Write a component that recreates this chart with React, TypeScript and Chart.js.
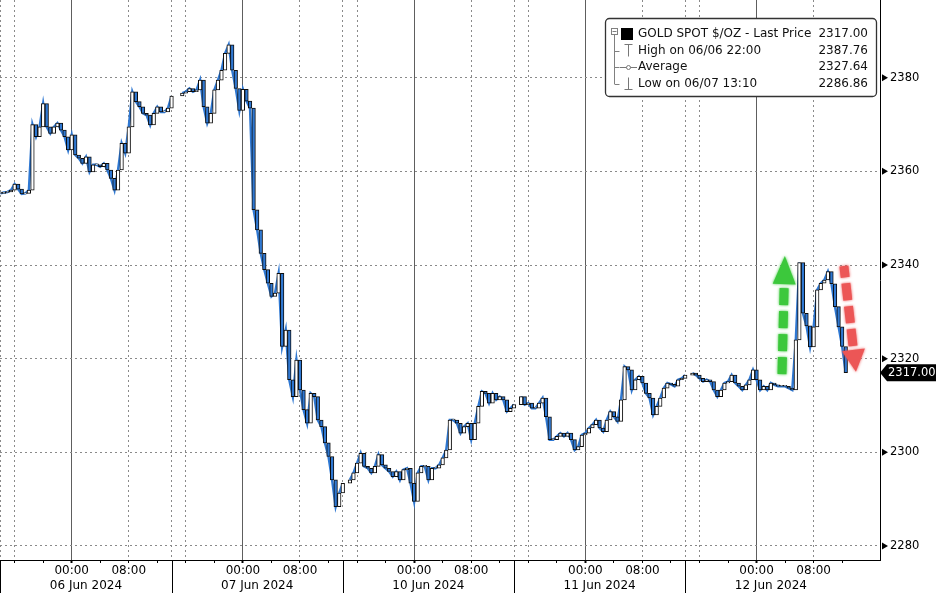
import React, { useEffect, useRef } from 'react';
import { Chart, registerables } from 'chart.js';

Chart.register(...registerables);

// ---------------- data ----------------
// Half-hour closes, x in trading hours from the left edge (each day block = 24 h)
const STEP_HOURS = 0.5;
const sessionStarts = [0, 25.5, 49, 73, 97];

const closes06 = [
  2355.3, 2355.5, 2355.6, 2356.0, 2357.3, 2356.2, 2355.2, 2355.3, 2356.0, 2370.0,
  2367.4, 2369.5, 2374.5, 2369.5, 2368.1, 2369.5, 2370.3, 2368.8, 2367.4, 2364.6,
  2367.8, 2363.5, 2362.8, 2361.7, 2363.1, 2359.9, 2361.4, 2361.4, 2361.0, 2361.7,
  2360.3, 2358.5, 2356.0, 2360.3, 2366.0, 2363.9, 2369.5, 2377.0, 2374.9, 2373.8,
  2372.4, 2372.0, 2369.9, 2372.4, 2373.8, 2372.7, 2372.7, 2373.5, 2376.1,
];
const closes07 = [
  2376.7, 2377.0, 2377.7, 2377.0, 2377.4, 2379.5, 2373.8, 2370.3, 2372.4, 2377.4,
  2379.5, 2381.6, 2385.2, 2387.0, 2381.6, 2377.7, 2373.0, 2377.5, 2375.0, 2373.5,
  2351.8, 2347.5, 2342.5, 2339.0, 2336.1, 2333.3, 2334.0, 2338.2, 2322.6, 2326.1,
  2315.5, 2311.9, 2319.7, 2313.3, 2309.1, 2306.2, 2312.6, 2311.9, 2306.9, 2305.5,
  2302.0, 2299.1, 2294.1, 2288.4, 2291.3, 2293.4,
];
const closes10 = [
  2294.1, 2295.6, 2297.7, 2299.8, 2297.0, 2296.6, 2295.6, 2297.0, 2299.5, 2297.3,
  2296.6, 2295.9, 2294.8, 2295.9, 2294.1, 2296.3, 2296.6, 2293.4, 2289.5, 2295.6,
  2297.0, 2297.0, 2294.1, 2296.6, 2296.6, 2297.3, 2298.8, 2300.5, 2306.9, 2306.9,
  2306.2, 2304.1, 2305.5, 2306.2, 2302.7, 2306.2, 2309.8, 2313.0, 2312.6, 2310.5,
  2312.6, 2311.2, 2311.9, 2311.2, 2308.7, 2309.4, 2310.2,
];
const closes11 = [
  2311.9, 2310.2, 2310.5, 2309.4, 2309.4, 2310.5, 2311.6, 2307.6, 2302.7, 2302.7,
  2303.4, 2304.1, 2303.4, 2304.1, 2302.7, 2300.5, 2301.2, 2303.7, 2304.1, 2305.2,
  2305.9, 2306.9, 2305.2, 2304.4, 2306.9, 2308.7, 2307.6, 2306.6, 2311.2, 2318.3,
  2317.6, 2313.3, 2315.5, 2316.2, 2314.8, 2312.6, 2311.6, 2308.0, 2309.8, 2311.6,
  2313.7, 2314.8, 2314.5, 2314.1, 2315.5, 2315.8, 2316.5,
];
const closes12 = [
  2316.9, 2316.5, 2315.8, 2315.1, 2315.5, 2315.1, 2313.3, 2311.9, 2313.3, 2314.8,
  2315.1, 2316.5, 2314.8, 2314.1, 2313.3, 2314.4, 2315.5, 2317.6, 2315.5, 2313.3,
  2314.1, 2313.3, 2314.8, 2314.4, 2314.1, 2314.1, 2314.1, 2313.7, 2313.3, 2324.0,
  2340.5, 2329.7, 2327.0, 2322.5, 2326.8, 2334.7, 2336.1, 2336.8, 2338.6, 2336.0,
  2331.1, 2326.8, 2322.6, 2317.0,
];
const sessions = [closes06, closes07, closes10, closes11, closes12];

const dayLabels = ['06 Jun 2024', '07 Jun 2024', '10 Jun 2024', '11 Jun 2024', '12 Jun 2024'];
const hourLabels = ['00:00', '08:00'];
const yTicks = [2280, 2300, 2320, 2340, 2360, 2380];
const Y_MIN = 2277.0;
const Y_MAX = 2396.6;
const X_MIN = -0.05;
const X_MAX = 123.3;

const lastPrice = 2317.0;
const lastPriceText = '2317.00';
const legendLabels = ['GOLD SPOT $/OZ - Last Price', 'High on 06/06 22:00', 'Average', 'Low on 06/07 13:10'];
const legendValues = ['2317.00', '2387.76', '2327.64', '2286.86'];

// annotation arrows in data space: [hour, price]
const upArrowFrom = [109.55, 2316.1];
const upArrowTo = [109.97, 2341.9];
const downArrowFrom = [118.24, 2339.8];
const downArrowTo = [119.93, 2317.2];

// ---------------- helpers ----------------
const mod24 = (v: number) => ((v % 24) + 24) % 24;
const BLUE = '#2f78d2';
const FONT = 'DejaVu Sans';

function buildBars() {
  const pts: { x: number; y: [number, number] }[] = [];
  let prev: number | null = null;
  sessions.forEach((closes, s) => {
    closes.forEach((c, i) => {
      const open = prev == null ? c : prev;
      pts.push({ x: sessionStarts[s] + i * STEP_HOURS, y: [open, c] });
      prev = c;
    });
  });
  return pts;
}

function buildLine() {
  const pts: { x: number; y: number | null }[] = [];
  sessions.forEach((closes, s) => {
    closes.forEach((c, i) => pts.push({ x: sessionStarts[s] + i * STEP_HOURS, y: c }));
    pts.push({ x: sessionStarts[s] + closes.length * STEP_HOURS - 0.25, y: null });
  });
  return pts;
}

function buildXTicks() {
  const t: number[] = [];
  for (let k = 0; k < dayLabels.length; k++) {
    [0, 2, 6, 10, 12, 14, 18, 22].forEach((o) => t.push(24 * k + o));
  }
  return t;
}

function drawArrow(ctx: CanvasRenderingContext2D, x0: number, y0: number, x1: number, y1: number,
  color: string, headLen: number, headHalf: number, shaftHalf: number, dash: number, gap: number) {
  const dx = x1 - x0, dy = y1 - y0;
  const len = Math.hypot(dx, dy);
  const ux = dx / len, uy = dy / len;
  const px = -uy, py = ux;
  const bx = x1 - ux * headLen, by = y1 - uy * headLen;
  ctx.save();
  ctx.fillStyle = color;
  ctx.shadowColor = color;
  ctx.shadowBlur = 3;
  const shaftLen = len - headLen;
  let t = 4;
  while (t < shaftLen) {
    const t2 = Math.min(t + dash, shaftLen);
    const ax = bx - ux * t, ay = by - uy * t;
    const cx = bx - ux * t2, cy = by - uy * t2;
    ctx.beginPath();
    ctx.moveTo(ax + px * shaftHalf, ay + py * shaftHalf);
    ctx.lineTo(cx + px * shaftHalf, cy + py * shaftHalf);
    ctx.lineTo(cx - px * shaftHalf, cy - py * shaftHalf);
    ctx.lineTo(ax - px * shaftHalf, ay - py * shaftHalf);
    ctx.closePath();
    ctx.fill();
    t = t2 + gap;
  }
  ctx.beginPath();
  ctx.moveTo(x1, y1);
  ctx.lineTo(bx + px * headHalf, by + py * headHalf);
  ctx.lineTo(bx - px * headHalf, by - py * headHalf);
  ctx.closePath();
  ctx.fill();
  ctx.restore();
}

const overlayPlugin = {
  id: 'overlay',
  afterDatasetsDraw(chart: any) {
    const { ctx, scales } = chart;
    const xs = scales.x, ys = scales.y;
    drawArrow(ctx,
      xs.getPixelForValue(upArrowFrom[0]), ys.getPixelForValue(upArrowFrom[1]),
      xs.getPixelForValue(upArrowTo[0]), ys.getPixelForValue(upArrowTo[1]),
      '#3cc83c', 28, 11.5, 4.5, 17, 6);
    drawArrow(ctx,
      xs.getPixelForValue(downArrowFrom[0]), ys.getPixelForValue(downArrowFrom[1]),
      xs.getPixelForValue(downArrowTo[0]), ys.getPixelForValue(downArrowTo[1]),
      '#ec5656', 22, 11.5, 4.5, 17, 6);
  },
  afterDraw(chart: any) {
    const { ctx, scales, chartArea } = chart;
    const xs = scales.x, ys = scales.y;
    ctx.save();
    // day separators in the axis area
    ctx.strokeStyle = '#000';
    ctx.lineWidth = 1;
    for (let k = 0; k < dayLabels.length; k++) {
      const x = Math.round(xs.getPixelForValue(24 * k)) + 0.5;
      ctx.beginPath();
      ctx.moveTo(x, chartArea.bottom);
      ctx.lineTo(x, chart.height);
      ctx.stroke();
    }
    // y tick pointers
    ctx.fillStyle = '#000';
    yTicks.forEach((v) => {
      const y = ys.getPixelForValue(v);
      ctx.beginPath();
      ctx.moveTo(chartArea.right + 2, y - 3.5);
      ctx.lineTo(chartArea.right + 8, y);
      ctx.lineTo(chartArea.right + 2, y + 3.5);
      ctx.closePath();
      ctx.fill();
    });
    // last price tag
    const ly = ys.getPixelForValue(lastPrice);
    const r = chartArea.right;
    ctx.beginPath();
    ctx.moveTo(r, ly);
    ctx.lineTo(r + 7, ly - 8.5);
    ctx.lineTo(chart.width, ly - 8.5);
    ctx.lineTo(chart.width, ly + 8.5);
    ctx.lineTo(r + 7, ly + 8.5);
    ctx.closePath();
    ctx.fillStyle = '#000';
    ctx.fill();
    ctx.fillStyle = '#fff';
    ctx.font = `11.5px "${FONT}"`;
    ctx.textBaseline = 'middle';
    ctx.textAlign = 'left';
    ctx.fillText(lastPriceText, r + 8, ly + 0.5);

    // legend box
    const bx = 605.5, by = 18.5, bw = 271, bh = 78;
    ctx.beginPath();
    ctx.roundRect(bx, by, bw, bh, 4);
    ctx.fillStyle = '#fff';
    ctx.fill();
    ctx.strokeStyle = '#333';
    ctx.lineWidth = 1.3;
    ctx.stroke();
    const rowY = [34, 50.5, 67, 83.5];
    // tree lines
    ctx.strokeStyle = '#808080';
    ctx.lineWidth = 1;
    ctx.strokeRect(611.5, 28.5, 6, 6);
    ctx.beginPath();
    ctx.moveTo(612.5, 31.5); ctx.lineTo(616.5, 31.5);
    ctx.moveTo(614.5, 34.5); ctx.lineTo(614.5, rowY[3] + 0.5);
    for (let i = 1; i < 4; i++) {
      ctx.moveTo(614.5, Math.round(rowY[i]) + 0.5);
      ctx.lineTo(619.5, Math.round(rowY[i]) + 0.5);
    }
    ctx.stroke();
    // icons
    ctx.fillStyle = '#000';
    ctx.fillRect(621, 28, 12, 12);
    ctx.strokeStyle = '#777';
    ctx.beginPath();
    ctx.moveTo(624.5, 44.5); ctx.lineTo(632.5, 44.5);
    ctx.moveTo(628.5, 44.5); ctx.lineTo(628.5, 56.5);
    ctx.moveTo(620, 67.5); ctx.lineTo(637, 67.5);
    ctx.moveTo(628.5, 77.5); ctx.lineTo(628.5, 89.5);
    ctx.moveTo(624.5, 89.5); ctx.lineTo(632.5, 89.5);
    ctx.stroke();
    ctx.beginPath();
    ctx.arc(628.5, 67.5, 2, 0, Math.PI * 2);
    ctx.fillStyle = '#fff';
    ctx.fill();
    ctx.stroke();
    // legend text
    ctx.font = `12px "${FONT}"`;
    ctx.fillStyle = '#111';
    ctx.textBaseline = 'middle';
    legendLabels.forEach((lab, i) => {
      ctx.textAlign = 'left';
      ctx.fillText(lab, 638, rowY[i]);
      ctx.textAlign = 'right';
      ctx.fillText(legendValues[i], 868, rowY[i]);
    });
    ctx.restore();
  },
};

export default function App() {
  const canvasRef = useRef<HTMLCanvasElement | null>(null);

  useEffect(() => {
    if (!canvasRef.current) return;
    Chart.defaults.font.family = FONT;
    const xTicks = buildXTicks();
    const chart = new Chart(canvasRef.current, {
      type: 'bar',
      data: {
        datasets: [
          {
            type: 'line',
            label: 'close',
            data: buildLine() as any,
            borderColor: BLUE,
            borderWidth: 2.5,
            pointRadius: 0,
            spanGaps: false,
            tension: 0,
            order: 2,
          } as any,
          {
            type: 'bar',
            label: 'GOLD SPOT $/OZ',
            data: buildBars() as any,
            backgroundColor: (c: any) => {
              const r = c.raw;
              if (!r || !r.y) return BLUE;
              return r.y[1] >= r.y[0] ? '#ffffff' : BLUE;
            },
            borderColor: '#0d0d0d',
            borderWidth: 1,
            borderSkipped: false,
            minBarLength: 1,
            barPercentage: 1,
            categoryPercentage: 1,
            order: 1,
          } as any,
        ],
      },
      options: {
        animation: false,
        responsive: true,
        maintainAspectRatio: false,
        events: [],
        layout: { padding: 0 },
        plugins: { legend: { display: false }, tooltip: { enabled: false } },
        scales: {
          x: {
            type: 'linear',
            position: 'bottom',
            min: X_MIN,
            max: X_MAX,
            offset: false,
            afterBuildTicks: (s: any) => { s.ticks = xTicks.map((v) => ({ value: v })); },
            afterFit: (s: any) => { s.height = 33; s.paddingLeft = 0; s.paddingRight = 0; },
            grid: {
              offset: false,
              lineWidth: 1,
              color: (c: any) => {
                const o = mod24(c.tick ? c.tick.value : 1);
                if (o === 10) return '#5e5e5e';
                if (o === 18 || o === 2 || o === 0) return '#8a8a8a';
                return 'rgba(0,0,0,0)';
              },
              drawTicks: true,
              tickLength: 3,
              tickColor: (c: any) => {
                const o = mod24(c.tick ? c.tick.value : 1);
                return o % 4 === 2 ? '#000' : 'rgba(0,0,0,0)';
              },
              tickWidth: (c: any) => (c.tick && mod24(c.tick.value) === 10 ? 2 : 1),
            },
            border: {
              display: true,
              color: '#000',
              width: 1,
              dash: (c: any) => (c.tick && mod24(c.tick.value) === 10 ? [] : [2, 3]),
            },
            ticks: {
              autoSkip: false,
              maxRotation: 0,
              minRotation: 0,
              padding: 0,
              color: '#000',
              font: { size: 12, family: FONT, lineHeight: 1.25 },
              callback: (v: any) => {
                const o = mod24(v);
                const k = Math.floor(v / 24);
                if (o === 10) return hourLabels[0];
                if (o === 18) return hourLabels[1];
                if (o === 12 && k < dayLabels.length) return ['', dayLabels[k]];
                return '';
              },
            },
          },
          y: {
            type: 'linear',
            position: 'right',
            min: Y_MIN,
            max: Y_MAX,
            afterBuildTicks: (s: any) => { s.ticks = yTicks.map((v) => ({ value: v })); },
            afterFit: (s: any) => { s.width = 56; s.paddingTop = 0; s.paddingBottom = 0; },
            grid: { color: '#8a8a8a', lineWidth: 1, drawTicks: false },
            border: { display: true, color: '#000', width: 1, dash: [2, 3] },
            ticks: {
              padding: 10,
              color: '#000',
              font: { size: 11.5, family: FONT },
              callback: (v: any) => String(v),
            },
          },
        },
      } as any,
      plugins: [overlayPlugin],
    });
    return () => chart.destroy();
  }, []);

  return (
    <div style={{ position: 'fixed', left: 0, top: 0, width: 936, height: 593, background: '#fff' }}>
      <canvas ref={canvasRef} />
    </div>
  );
}
